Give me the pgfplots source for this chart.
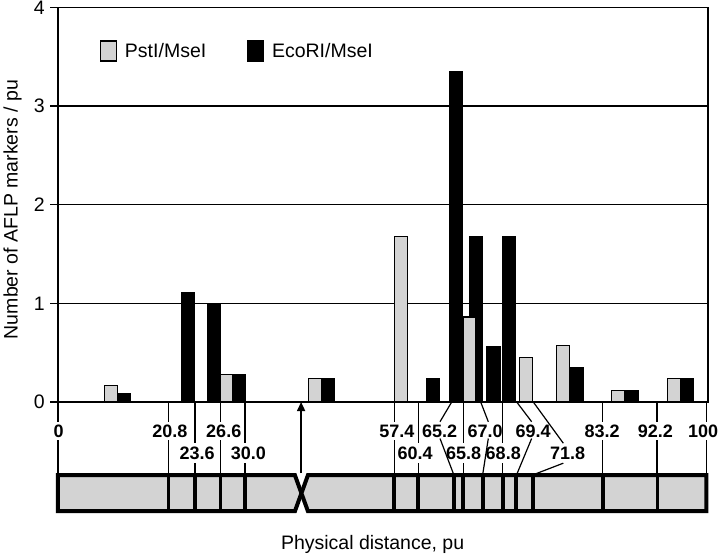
\documentclass[border=0pt]{standalone}
\usepackage{fontspec}
\setmainfont{Liberation Sans}
\usepackage{pgfplots}
\pgfplotsset{compat=1.18}
\usetikzlibrary{calc,arrows.meta}
\definecolor{barGray}{RGB}{211,211,211}

\pgfplotsset{boxlegend/.style={legend image code/.code={\draw[##1] (0bp,-10bp) rectangle (15.5bp,10bp);}}}
\tikzset{tk/.style={line width=1.2bp}, dv/.style={line width=3.6bp},
  lb/.style={font=\bfseries\fontsize{18bp}{20bp}\selectfont, inner sep=0pt}}

\begin{document}
\begin{tikzpicture}[font=\fontsize{19.5bp}{22bp}\selectfont]
\begin{axis}[
  width=650bp, height=394.7bp, scale only axis,
  xmin=0, xmax=100, ymin=0, ymax=4,
  xtick=\empty, ytick={0,1,2,3,4}, ytick pos=left,
  tick align=outside, major tick length=8bp,
  tick style={black, line width=1.3bp},
  /pgf/number format/assume math mode=true,
  yticklabel style={anchor=east, inner sep=0pt, xshift=-5bp},
  ymajorgrids, major grid style={black, line width=1.3bp},
  axis line style={line width=1.3bp},
  ylabel={Number of AFLP markers / pu},
  ylabel style={at={(axis cs:-7.0,1.95)}, anchor=center, inner sep=0pt},
  clip=false,
  legend style={draw=none, fill=none, at={(axis cs:6.46,3.558)}, anchor=west,
    legend columns=2, inner sep=0pt, nodes={inner sep=0pt},
    /tikz/every odd column/.append style={column sep=8bp},
    /tikz/every even column/.append style={column sep=41bp}},
]
\addlegendimage{boxlegend, fill=barGray, draw=black, line width=1.3bp}
\addlegendentry{PstI/MseI}
\addlegendimage{boxlegend, fill=black, draw=black, line width=1.3bp}
\addlegendentry{EcoRI/MseI}

% EcoRI/MseI (drawn first, grey overlaps it)
\addplot[ybar, bar width=2, bar shift=0pt, fill=black, draw=black, line width=1.3bp, forget plot]
  coordinates {(10.2,0.08) (20.0,1.11) (24.0,1.0) (27.8,0.28) (41.5,0.24) (57.7,0.24)
    (61.2,3.35) (64.3,1.68) (67.0,0.56) (69.4,1.68) (79.8,0.35) (88.3,0.12) (96.7,0.24)};
% PstI/MseI
\addplot[ybar, bar width=2, bar shift=0pt, fill=barGray, draw=black, line width=1.3bp, forget plot]
  coordinates {(8.18,0.17) (25.9,0.28) (39.5,0.24) (52.8,1.68) (63.3,0.86) (72.0,0.45)
    (77.7,0.57) (86.2,0.12) (94.8,0.24)};

% map below the axis
\pgfplotsinvokeforeach{0,17.0,25.05,51.8,83.75,92.15,99.8}{
  \draw[tk] (axis cs:#1,0) -- (axis cs:#1,-0.2);
  \draw[tk] (axis cs:#1,-0.39) -- (axis cs:#1,-0.73);}
\pgfplotsinvokeforeach{21.08,28.77,55.43,62.35,68.42}{
  \draw[tk] (axis cs:#1,0) -- (axis cs:#1,-0.415);
  \draw[tk] (axis cs:#1,-0.62) -- (axis cs:#1,-0.73);}
\draw[tk] (axis cs:60.57,0) -- (axis cs:58.77,-0.2);
\draw[tk] (axis cs:58.77,-0.37) -- (axis cs:60.85,-0.73);
\draw[tk] (axis cs:65.03,0) -- (axis cs:66.2,-0.2);
\draw[tk] (axis cs:66.2,-0.37) -- (axis cs:65.35,-0.73);
\draw[tk] (axis cs:70.57,0) -- (axis cs:72.87,-0.2);
\draw[tk] (axis cs:72.87,-0.37) -- (axis cs:70.6,-0.73);
\draw[tk] (axis cs:73.12,0) -- (axis cs:77.74,-0.418);
\draw[tk] (axis cs:77.74,-0.62) -- (axis cs:73.4,-0.73);

\node[lb] at (axis cs:0.08,-0.30) {0};
\node[lb] at (axis cs:17.2,-0.30) {20.8};
\node[lb] at (axis cs:25.5,-0.30) {26.6};
\node[lb] at (axis cs:52.15,-0.30) {57.4};
\node[lb] at (axis cs:58.7,-0.30) {65.2};
\node[lb] at (axis cs:65.7,-0.30) {67.0};
\node[lb] at (axis cs:73.1,-0.30) {69.4};
\node[lb] at (axis cs:83.7,-0.30) {83.2};
\node[lb] at (axis cs:91.9,-0.30) {92.2};
\node[lb] at (axis cs:99.25,-0.30) {100};
\node[lb] at (axis cs:21.4,-0.52) {23.6};
\node[lb] at (axis cs:29.3,-0.52) {30.0};
\node[lb] at (axis cs:54.95,-0.52) {60.4};
\node[lb] at (axis cs:62.4,-0.52) {65.8};
\node[lb] at (axis cs:68.5,-0.52) {68.8};
\node[lb] at (axis cs:78.4,-0.52) {71.8};

\draw[line width=4bp, fill=barGray, line join=miter, miter limit=2]
  (axis cs:0,-0.742) -- (axis cs:36.45,-0.742) -- (axis cs:37.45,-0.9245)
  -- (axis cs:36.45,-1.107) -- (axis cs:0,-1.107) -- cycle;
\draw[line width=4bp, fill=barGray, line join=miter, miter limit=2]
  (axis cs:99.75,-0.742) -- (axis cs:38.45,-0.742) -- (axis cs:37.45,-0.9245)
  -- (axis cs:38.45,-1.107) -- (axis cs:99.75,-1.107) -- cycle;
\pgfplotsinvokeforeach{17.0,21.08,25.0,28.77,51.7,55.4,60.9,62.35,65.4,68.42,70.46,73.12,83.89,92.26}{
  \draw[dv] (axis cs:#1,-0.742) -- (axis cs:#1,-1.107);}
\draw[line width=1.5bp, -{Triangle[length=9bp,width=8bp]}] (axis cs:37.4,-0.722) -- (axis cs:37.4,0);

\node[anchor=base] at (axis cs:48.4,-1.49) {Physical distance, pu};
\coordinate (O) at (axis cs:0,0);
\end{axis}
\pgfresetboundingbox
\useasboundingbox ($(O)+(-58bp,402bp)$) rectangle ($(O)+(662bp,-152bp)$);
\end{tikzpicture}
\end{document}
